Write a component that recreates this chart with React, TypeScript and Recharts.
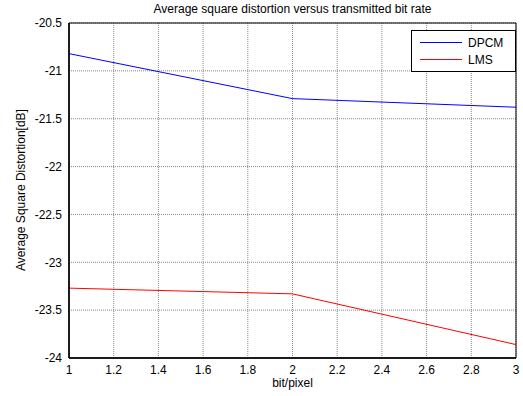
import { LineChart, Line, XAxis, YAxis, CartesianGrid, ReferenceArea } from 'recharts'

const bitRates = [1, 2, 3]
const dpcm = [-20.82, -21.29, -21.38]
const lms = [-23.27, -23.33, -23.86]

const xTicks = [1, 1.2, 1.4, 1.6, 1.8, 2, 2.2, 2.4, 2.6, 2.8, 3]
const yTicks = [-24, -23.5, -23, -22.5, -22, -21.5, -21, -20.5]

const chartData = bitRates.map((b, i) => ({ bit: b, dpcm: dpcm[i], lms: lms[i] }))

const font = 'Arial, "Liberation Sans", sans-serif'

const legendItems = [
  { name: 'DPCM', color: '#0000ff' },
  { name: 'LMS', color: '#ff0000' },
]

function LegendBox() {
  return (
    <div style={{ position: 'absolute', left: 411, top: 30, border: '1px solid #000', background: '#fff', width: 105, height: 42, padding: '3px 0', boxSizing: 'border-box' }}>
      {legendItems.map(it => (
        <div key={it.name} style={{ display: 'flex', alignItems: 'center', height: 17, fontFamily: font, fontSize: 12, color: '#000' }}>
          <span style={{ display: 'inline-block', width: 42, height: 1, background: it.color, marginLeft: 8, marginRight: 6 }} />
          {it.name}
        </div>
      ))}
    </div>
  )
}

export default function App() {
  return (
    <div style={{ position: 'absolute', left: 0, top: 0, width: 523, height: 396, background: '#fff' }}>
      <LineChart width={523} height={396} data={chartData} margin={{ top: 23, right: 7, bottom: 8, left: 19 }} style={{ fontFamily: font }}>
        <CartesianGrid stroke="#888" strokeDasharray="1 1" horizontalValues={yTicks} verticalValues={xTicks} />
        <XAxis
          dataKey="bit"
          type="number"
          domain={[1, 3]}
          ticks={xTicks}
          interval={0}
          height={30}
          stroke="#000"
          tickLine={false}
          tick={{ fill: '#000', fontSize: 12 }}
          tickMargin={1}
          axisLine={{ stroke: '#000', strokeWidth: 1.5 }}
        />
        <YAxis
          type="number"
          domain={[-24, -20.5]}
          ticks={yTicks}
          interval={0}
          width={50}
          stroke="#000"
          tickLine={false}
          tick={{ fill: '#000', fontSize: 12 }}
          tickMargin={1}
          axisLine={{ stroke: '#000', strokeWidth: 1.5 }}
        />
        <ReferenceArea x1={1} x2={3} y1={-24} y2={-20.5} fill="none" stroke="#000" strokeWidth={1} ifOverflow="visible" />
        <Line dataKey="dpcm" name="DPCM" stroke="#0000ff" strokeWidth={1} dot={false} isAnimationActive={false} />
        <Line dataKey="lms" name="LMS" stroke="#ff0000" strokeWidth={1} dot={false} isAnimationActive={false} />
      </LineChart>
      <div style={{ position: 'absolute', left: 69, width: 447, top: 2, textAlign: 'center', fontFamily: font, fontSize: 12, color: '#000' }}>
        Average square distortion versus transmitted bit rate
      </div>
      <div style={{ position: 'absolute', left: 21, top: 190, transform: 'translate(-50%, -50%) rotate(-90deg)', whiteSpace: 'nowrap', fontFamily: font, fontSize: 12, color: '#000' }}>
        Average Square Distortion[dB]
      </div>
      <div style={{ position: 'absolute', left: 69, width: 447, top: 377, lineHeight: '12px', textAlign: 'center', fontFamily: font, fontSize: 12, color: '#000' }}>
        bit/pixel
      </div>
      <LegendBox />
    </div>
  )
}
